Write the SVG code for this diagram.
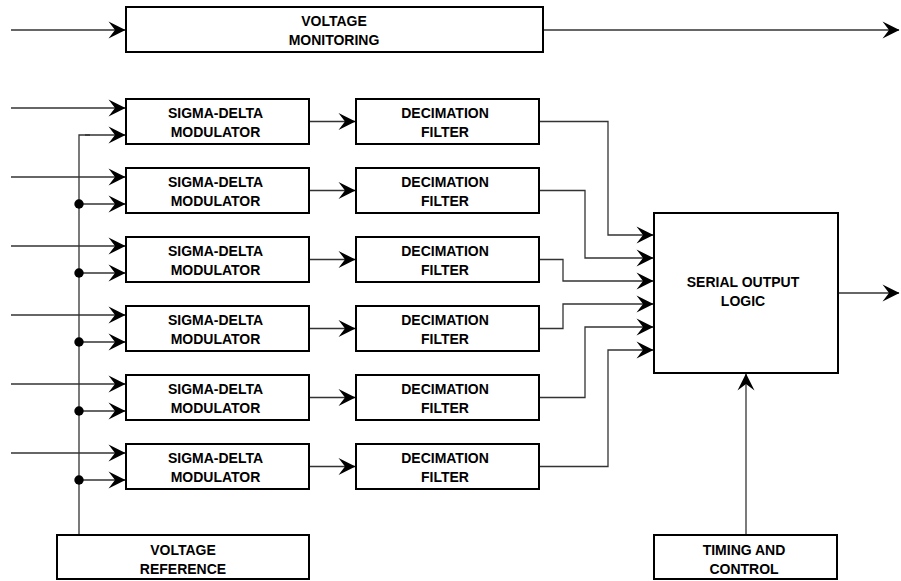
<svg xmlns="http://www.w3.org/2000/svg" width="901" height="581" viewBox="0 0 901 581">
<defs>
<marker id="arr" viewBox="-18 -10 20 20" refX="0" refY="0" markerWidth="20" markerHeight="20" markerUnits="userSpaceOnUse" orient="auto">
<path d="M0.5,0 L-16.5,-8.5 L-10,0 L-16.5,8.5 z" fill="#000"/>
</marker>
</defs>
<style>
.box{fill:#fff;stroke:#000;stroke-width:2}
.t{font-family:"Liberation Sans",Arial,sans-serif;font-weight:bold;font-size:14px;text-anchor:middle;fill:#000}
.c{fill:none;stroke:#333;stroke-width:1.3}
.a{marker-end:url(#arr)}
</style>
<g id="connectors">
<path class="c a" d="M11,30 H125"/>
<path class="c a" d="M543,30 H899"/>
<path class="c a" d="M11,108 H125"/>
<path class="c a" d="M11,177 H125"/>
<path class="c a" d="M11,246 H125"/>
<path class="c a" d="M11,315 H125"/>
<path class="c a" d="M11,384 H125"/>
<path class="c a" d="M11,453 H125"/>
<path class="c" d="M79,535 V135 H90"/>
<path class="c a" d="M85,135 H125"/>
<path class="c a" d="M79,204 H125"/>
<path class="c a" d="M79,273 H125"/>
<path class="c a" d="M79,342 H125"/>
<path class="c a" d="M79,411 H125"/>
<path class="c a" d="M79,480 H125"/>
<g fill="#000">
<circle cx="79" cy="204" r="4.7"/>
<circle cx="79" cy="273" r="4.7"/>
<circle cx="79" cy="342" r="4.7"/>
<circle cx="79" cy="411" r="4.7"/>
<circle cx="79" cy="480" r="4.7"/>
</g>
<path class="c a" d="M309,121.5 H355"/>
<path class="c a" d="M309,190.5 H355"/>
<path class="c a" d="M309,259.5 H355"/>
<path class="c a" d="M309,328.5 H355"/>
<path class="c a" d="M309,397.5 H355"/>
<path class="c a" d="M309,466.5 H355"/>
<path class="c a" d="M539,121.5 H608 V235 H653"/>
<path class="c a" d="M539,190.5 H585 V258 H653"/>
<path class="c a" d="M539,259.5 H563 V281 H653"/>
<path class="c a" d="M539,328.5 H563 V304 H653"/>
<path class="c a" d="M539,397.5 H585 V327 H653"/>
<path class="c a" d="M539,466.5 H608 V350 H653"/>
<path class="c a" d="M838,293 H899"/>
<path class="c a" d="M746,535 V374"/>
</g>
<g id="voltage-monitoring">
<rect class="box" x="126" y="7" width="417" height="45"/>
<text class="t" x="334" y="26">VOLTAGE</text>
<text class="t" x="334" y="45">MONITORING</text>
</g>
<g id="sd1"><rect class="box" x="126" y="99" width="183" height="45"/><text class="t" x="215.5" y="117.7">SIGMA-DELTA</text><text class="t" x="215.5" y="136.7">MODULATOR</text></g>
<g id="sd2"><rect class="box" x="126" y="168" width="183" height="45"/><text class="t" x="215.5" y="186.7">SIGMA-DELTA</text><text class="t" x="215.5" y="205.7">MODULATOR</text></g>
<g id="sd3"><rect class="box" x="126" y="237" width="183" height="45"/><text class="t" x="215.5" y="255.7">SIGMA-DELTA</text><text class="t" x="215.5" y="274.7">MODULATOR</text></g>
<g id="sd4"><rect class="box" x="126" y="306" width="183" height="45"/><text class="t" x="215.5" y="324.7">SIGMA-DELTA</text><text class="t" x="215.5" y="343.7">MODULATOR</text></g>
<g id="sd5"><rect class="box" x="126" y="375" width="183" height="45"/><text class="t" x="215.5" y="393.7">SIGMA-DELTA</text><text class="t" x="215.5" y="412.7">MODULATOR</text></g>
<g id="sd6"><rect class="box" x="126" y="444" width="183" height="45"/><text class="t" x="215.5" y="462.7">SIGMA-DELTA</text><text class="t" x="215.5" y="481.7">MODULATOR</text></g>
<g id="df1"><rect class="box" x="356" y="99" width="183" height="45"/><text class="t" x="445" y="117.7">DECIMATION</text><text class="t" x="445" y="136.7">FILTER</text></g>
<g id="df2"><rect class="box" x="356" y="168" width="183" height="45"/><text class="t" x="445" y="186.7">DECIMATION</text><text class="t" x="445" y="205.7">FILTER</text></g>
<g id="df3"><rect class="box" x="356" y="237" width="183" height="45"/><text class="t" x="445" y="255.7">DECIMATION</text><text class="t" x="445" y="274.7">FILTER</text></g>
<g id="df4"><rect class="box" x="356" y="306" width="183" height="45"/><text class="t" x="445" y="324.7">DECIMATION</text><text class="t" x="445" y="343.7">FILTER</text></g>
<g id="df5"><rect class="box" x="356" y="375" width="183" height="45"/><text class="t" x="445" y="393.7">DECIMATION</text><text class="t" x="445" y="412.7">FILTER</text></g>
<g id="df6"><rect class="box" x="356" y="444" width="183" height="45"/><text class="t" x="445" y="462.7">DECIMATION</text><text class="t" x="445" y="481.7">FILTER</text></g>
<g id="serial-output-logic">
<rect class="box" x="654" y="213" width="184" height="160"/>
<text class="t" x="743" y="287">SERIAL OUTPUT</text>
<text class="t" x="743" y="306">LOGIC</text>
</g>
<g id="voltage-reference">
<rect class="box" x="57" y="535" width="252" height="44"/>
<text class="t" x="183" y="555">VOLTAGE</text>
<text class="t" x="183" y="574">REFERENCE</text>
</g>
<g id="timing-control">
<rect class="box" x="654" y="535" width="183" height="44"/>
<text class="t" x="744" y="555">TIMING AND</text>
<text class="t" x="744" y="574">CONTROL</text>
</g>
</svg>
